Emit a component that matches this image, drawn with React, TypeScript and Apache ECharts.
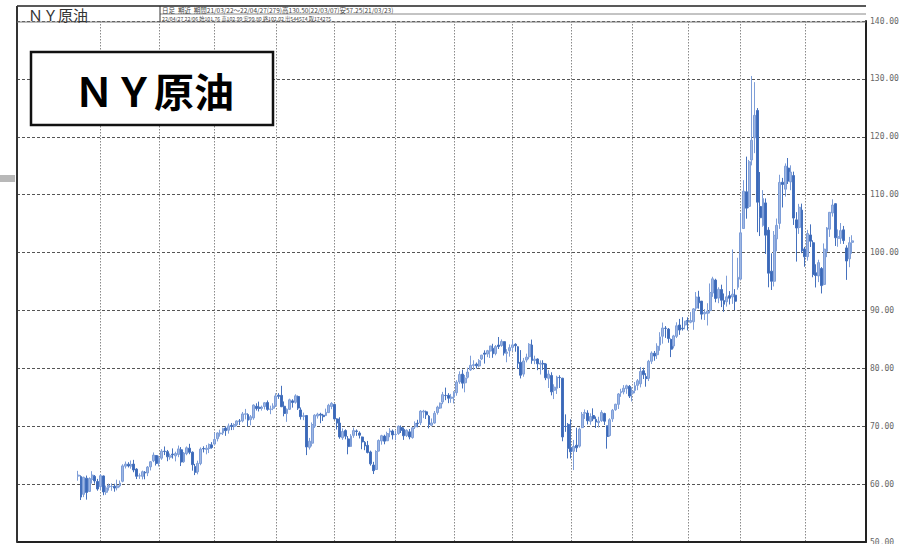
import React, { useEffect, useRef } from 'react';
import * as echarts from 'echarts';

// [day, open, high, low, close]
const m2103 = [
  [22, 61.38, 62.29, 60.59, 61.55], [23, 61.30, 61.51, 57.25, 57.76], [24, 58.23, 61.28, 57.75, 61.18],
  [25, 61.03, 61.48, 57.32, 58.56], [26, 58.73, 61.17, 58.71, 60.97], [29, 60.81, 62.23, 60.09, 61.56],
  [30, 61.35, 61.57, 60.07, 60.55], [31, 60.45, 60.90, 58.86, 59.16],
];
const m2104 = [
  [1, 59.56, 61.74, 59.00, 61.45], [5, 61.41, 61.48, 58.08, 58.65], [6, 58.59, 59.74, 58.15, 59.33],
  [7, 59.44, 60.10, 58.88, 59.77], [8, 59.59, 60.13, 58.85, 59.60], [9, 59.64, 60.06, 58.69, 59.32],
  [12, 59.38, 60.77, 58.92, 59.70], [13, 59.70, 60.62, 59.45, 60.18], [14, 60.49, 63.43, 60.31, 63.15],
  [15, 63.10, 63.90, 62.70, 63.46], [16, 63.44, 63.78, 62.87, 63.13], [19, 63.11, 64.08, 62.67, 63.38],
  [20, 63.46, 64.19, 62.05, 62.44], [21, 62.59, 62.75, 60.87, 61.35], [22, 61.41, 61.85, 60.90, 61.43],
  [23, 61.34, 62.33, 60.81, 62.14], [26, 62.05, 62.25, 60.83, 61.91], [27, 61.93, 63.12, 61.38, 62.94],
  [28, 62.99, 63.99, 62.36, 63.86], [29, 64.04, 65.47, 63.79, 65.01], [30, 64.93, 65.03, 63.21, 63.58],
];
const m2105 = [
  [3, 63.62, 64.90, 63.05, 64.49], [4, 64.48, 66.04, 64.19, 65.69], [5, 65.69, 66.50, 65.01, 65.63],
  [6, 65.61, 65.90, 63.95, 64.71], [7, 64.65, 65.29, 64.22, 64.90], [10, 65.19, 66.17, 64.41, 65.07],
  [11, 64.88, 65.60, 63.93, 65.28], [12, 65.12, 66.66, 64.65, 66.08], [13, 65.93, 66.40, 63.12, 63.82],
  [14, 63.87, 65.54, 63.67, 65.37], [17, 65.26, 66.50, 64.99, 66.27], [18, 66.21, 66.96, 65.16, 65.49],
  [19, 65.51, 65.64, 62.32, 63.36], [20, 63.01, 63.49, 61.56, 62.05], [21, 62.12, 64.05, 61.69, 63.58],
  [24, 63.55, 66.34, 63.26, 66.05], [25, 66.15, 66.53, 65.47, 66.07], [26, 65.99, 66.76, 65.14, 66.21],
  [27, 66.16, 67.01, 65.36, 66.85], [28, 66.77, 67.25, 66.12, 66.32],
];
const m2106 = [
  [1, 66.92, 68.87, 66.75, 67.72], [2, 67.85, 68.95, 67.37, 68.83], [3, 68.69, 69.40, 68.20, 68.81],
  [4, 68.82, 69.76, 68.48, 69.62], [7, 69.68, 70.00, 68.34, 69.23], [8, 69.31, 70.46, 68.72, 70.05],
  [9, 70.16, 70.56, 69.33, 69.96], [10, 69.94, 70.52, 69.34, 70.29], [11, 70.28, 71.00, 69.99, 70.91],
  [14, 70.88, 71.24, 70.19, 70.88], [15, 70.91, 72.46, 70.66, 72.12], [16, 72.06, 72.99, 71.19, 72.15],
  [17, 72.01, 72.23, 70.00, 71.04], [18, 71.13, 71.94, 70.16, 71.64], [21, 71.43, 73.78, 71.11, 73.66],
  [22, 73.44, 73.96, 72.71, 73.06], [23, 73.29, 74.25, 72.55, 73.08], [24, 73.07, 73.56, 72.70, 73.30],
  [25, 73.40, 74.16, 72.90, 74.05], [28, 74.10, 74.45, 72.67, 72.91], [29, 72.92, 73.55, 72.08, 72.98],
  [30, 73.10, 73.97, 72.77, 73.47],
];
const m2107 = [
  [1, 73.54, 75.70, 73.32, 75.23], [2, 75.35, 75.71, 74.73, 75.16], [6, 75.33, 76.98, 73.30, 73.37],
  [7, 73.45, 74.28, 71.71, 72.20], [8, 72.18, 73.07, 70.76, 72.94], [9, 72.92, 74.76, 72.80, 74.56],
  [12, 74.38, 74.66, 73.21, 74.10], [13, 74.14, 75.52, 73.90, 75.25], [14, 75.14, 75.30, 72.81, 73.13],
  [15, 72.81, 73.24, 71.15, 71.65], [16, 71.70, 72.35, 71.04, 71.81], [19, 71.85, 71.94, 65.01, 66.42],
  [20, 66.35, 67.98, 65.97, 67.42], [21, 67.07, 70.65, 66.51, 70.30], [22, 70.01, 72.07, 69.70, 71.91],
  [23, 71.76, 72.32, 71.32, 72.07], [26, 72.08, 72.32, 70.52, 71.91], [27, 71.90, 72.14, 70.91, 71.65],
  [28, 71.84, 73.04, 71.76, 72.39], [29, 72.35, 73.87, 72.28, 73.62], [30, 73.41, 74.16, 72.94, 73.95],
];
const m2108 = [
  [2, 73.77, 73.88, 71.12, 71.26], [3, 71.26, 71.37, 69.43, 70.56], [4, 70.55, 71.55, 67.84, 68.15],
  [5, 68.01, 69.63, 67.65, 69.09], [6, 69.25, 69.45, 67.74, 68.28], [9, 67.81, 68.29, 65.15, 66.48],
  [10, 66.51, 68.63, 66.41, 68.29], [11, 68.42, 69.76, 68.01, 69.25], [12, 69.19, 69.44, 68.34, 69.09],
  [13, 68.83, 69.12, 67.88, 68.44], [16, 68.14, 68.21, 66.02, 67.29], [17, 67.21, 67.44, 65.86, 66.59],
  [18, 66.70, 67.46, 65.30, 65.46], [19, 65.55, 65.78, 63.20, 63.50], [20, 63.29, 63.85, 61.74, 62.32],
  [23, 62.53, 65.85, 62.44, 65.64], [24, 65.70, 67.71, 65.62, 67.54], [25, 67.46, 68.52, 66.81, 68.36],
  [26, 68.29, 68.53, 66.88, 67.42], [27, 67.49, 69.05, 67.43, 68.74], [30, 69.02, 69.66, 68.10, 69.21],
  [31, 69.17, 69.43, 67.71, 68.50],
];
const m2109 = [
  [1, 68.55, 69.22, 67.58, 68.59], [2, 68.74, 70.14, 68.51, 69.99], [3, 69.79, 70.13, 68.83, 69.29],
  [7, 69.46, 69.80, 67.64, 68.35], [8, 68.39, 69.45, 68.15, 69.30], [9, 69.03, 69.52, 67.74, 68.14],
  [10, 68.04, 69.87, 67.85, 69.72], [13, 69.89, 70.83, 69.52, 70.45], [14, 70.53, 71.11, 69.81, 70.46],
  [15, 70.61, 72.78, 70.20, 72.61], [16, 72.45, 72.83, 71.39, 72.61], [17, 72.49, 72.70, 71.25, 71.97],
  [20, 71.75, 71.93, 69.63, 70.29], [21, 70.16, 71.34, 69.98, 70.56], [22, 70.55, 72.63, 70.43, 72.23],
  [23, 72.37, 73.54, 72.01, 73.30], [24, 73.13, 74.08, 72.98, 73.98], [27, 74.19, 75.93, 73.81, 75.45],
  [28, 75.32, 76.67, 74.50, 75.29], [29, 75.34, 75.71, 73.98, 74.83], [30, 74.82, 75.58, 74.05, 75.03],
];
const m2110 = [
  [1, 75.09, 76.06, 73.94, 75.88], [4, 75.79, 77.95, 75.27, 77.62], [5, 77.65, 79.48, 77.32, 78.93],
  [6, 79.00, 79.78, 76.52, 77.43], [7, 77.50, 78.85, 75.86, 78.30], [8, 78.46, 80.11, 78.25, 79.35],
  [11, 79.73, 82.18, 79.56, 80.52], [12, 80.49, 81.39, 79.71, 80.64], [13, 80.72, 81.00, 79.96, 80.44],
  [14, 80.41, 81.59, 80.16, 81.31], [15, 81.61, 82.33, 81.43, 82.28], [18, 82.63, 83.11, 80.82, 82.44],
  [19, 82.47, 83.19, 81.93, 83.05], [20, 82.98, 83.87, 81.79, 83.87], [21, 83.46, 84.24, 81.82, 82.50],
  [22, 82.56, 84.02, 82.25, 83.76], [25, 84.02, 85.41, 83.34, 83.76], [26, 83.94, 85.00, 83.72, 84.65],
  [27, 84.61, 84.66, 82.21, 82.66], [28, 82.60, 83.31, 81.05, 82.81], [29, 83.04, 84.14, 82.02, 83.57],
];
const m2111 = [
  [1, 83.62, 84.88, 82.96, 84.05], [2, 84.15, 84.33, 82.87, 83.91], [3, 83.73, 83.83, 79.88, 80.86],
  [4, 81.04, 83.15, 78.25, 78.81], [5, 79.00, 81.80, 78.55, 81.27], [8, 81.43, 82.53, 81.03, 81.93],
  [9, 82.00, 84.35, 81.57, 84.15], [10, 84.03, 84.97, 80.78, 81.34], [11, 81.36, 82.18, 80.71, 81.59],
  [12, 81.61, 81.71, 79.68, 80.79], [15, 80.72, 81.37, 78.93, 80.88], [16, 80.85, 81.40, 79.73, 80.76],
  [17, 80.76, 80.88, 77.96, 78.36], [18, 78.28, 79.69, 76.60, 79.01], [19, 78.77, 79.32, 75.33, 75.94],
  [22, 76.21, 77.24, 74.69, 76.75], [23, 76.55, 78.72, 75.57, 78.50], [24, 78.43, 78.80, 76.60, 78.39],
  [26, 78.30, 78.35, 67.40, 68.15], [29, 69.97, 72.05, 69.03, 69.95], [30, 70.32, 70.55, 64.43, 66.18],
];
const m2112 = [
  [1, 66.27, 71.20, 64.43, 65.57], [2, 65.67, 67.63, 62.43, 66.50], [3, 66.72, 69.74, 65.55, 66.26],
  [6, 66.56, 69.77, 66.30, 69.49], [7, 69.76, 72.46, 69.66, 72.05], [8, 72.23, 72.90, 71.26, 72.36],
  [9, 72.28, 72.76, 70.31, 70.94], [10, 70.84, 72.23, 70.26, 71.67], [13, 71.85, 73.09, 70.88, 71.29],
  [14, 71.19, 71.68, 69.70, 70.73], [15, 70.62, 71.63, 69.79, 70.87], [16, 70.96, 72.76, 70.75, 72.38],
  [17, 72.20, 72.33, 70.21, 70.86], [20, 70.07, 70.10, 66.12, 68.23], [21, 68.39, 71.37, 68.21, 71.12],
  [22, 71.27, 72.98, 70.75, 72.76], [23, 72.86, 73.89, 72.66, 73.79], [27, 73.78, 75.74, 72.98, 75.57],
  [28, 75.78, 76.46, 75.08, 75.98], [29, 75.92, 77.11, 75.51, 76.56], [30, 76.50, 77.18, 75.60, 76.99],
  [31, 76.89, 77.12, 74.87, 75.21],
];
const m2201 = [
  [3, 75.69, 76.73, 74.27, 76.08], [4, 76.18, 77.64, 75.70, 76.99], [5, 77.06, 78.15, 76.22, 77.85],
  [6, 77.33, 80.24, 76.71, 79.46], [7, 79.58, 80.11, 78.15, 78.90], [10, 78.55, 79.16, 76.83, 78.23],
  [11, 78.28, 81.46, 77.80, 81.22], [12, 81.22, 82.93, 80.76, 82.64], [13, 82.61, 83.00, 81.31, 82.12],
  [14, 82.35, 84.33, 81.62, 83.82], [18, 84.03, 86.24, 83.04, 85.43], [19, 85.55, 87.91, 84.26, 86.96],
  [20, 86.93, 87.30, 85.26, 86.90], [21, 86.78, 86.97, 84.42, 85.14], [24, 84.98, 85.16, 81.94, 83.31],
  [25, 83.86, 85.78, 83.44, 85.60], [26, 85.53, 87.95, 85.23, 87.35], [27, 87.49, 88.54, 85.79, 86.61],
  [28, 86.94, 88.84, 86.52, 86.82], [31, 87.49, 88.15, 86.73, 88.15],
];
const m2202 = [
  [1, 88.26, 88.81, 86.55, 88.20], [2, 87.96, 89.72, 87.79, 88.26], [3, 88.04, 90.42, 86.66, 90.27],
  [4, 90.41, 93.17, 89.91, 92.31], [7, 92.33, 93.39, 90.31, 91.32], [8, 91.61, 91.61, 88.43, 89.36],
  [9, 89.41, 90.24, 88.35, 89.66], [10, 89.49, 91.25, 87.40, 89.88], [11, 89.98, 94.66, 89.49, 93.10],
  [14, 93.00, 95.82, 92.35, 95.46], [15, 95.25, 95.48, 91.41, 92.07], [16, 92.13, 94.00, 91.25, 93.66],
  [17, 93.61, 94.45, 90.58, 91.76], [18, 91.71, 92.93, 89.77, 91.07], [22, 91.50, 96.00, 90.66, 92.35],
  [23, 92.55, 93.34, 91.03, 92.10], [24, 92.33, 100.54, 91.14, 92.81], [25, 92.64, 93.69, 90.06, 91.59],
  [28, 94.00, 99.10, 93.59, 95.72],
];
const m2203 = [
  [1, 95.41, 106.78, 95.25, 103.41], [2, 104.15, 112.51, 104.09, 110.60], [3, 110.50, 116.57, 105.85, 107.67],
  [4, 107.98, 116.00, 107.67, 115.68], [7, 115.99, 130.50, 115.06, 119.40], [8, 119.82, 129.44, 117.17, 123.70],
  [9, 124.55, 124.96, 103.52, 108.70], [10, 107.96, 113.91, 102.85, 106.02], [11, 104.69, 110.78, 104.46, 109.33],
  [14, 108.58, 109.35, 99.76, 103.01], [15, 103.88, 104.39, 94.00, 96.44], [16, 96.79, 99.87, 93.53, 95.04],
  [17, 95.05, 103.72, 94.14, 102.98], [18, 102.36, 105.88, 100.22, 104.70], [21, 105.04, 113.44, 104.09, 112.12],
  [22, 112.15, 112.90, 107.79, 111.76], [23, 110.95, 115.40, 109.67, 114.93], [24, 114.59, 116.33, 111.85, 112.34],
  [25, 112.20, 115.07, 110.77, 113.90], [28, 113.30, 113.98, 104.77, 105.96], [29, 105.65, 106.98, 98.44, 104.24],
  [30, 104.34, 108.41, 103.22, 107.82], [31, 107.33, 108.45, 99.90, 100.28],
];
const m2204 = [
  [1, 100.63, 100.98, 97.55, 99.27], [4, 99.29, 103.92, 98.59, 103.28], [5, 103.04, 104.87, 100.96, 101.96],
  [6, 101.70, 102.11, 95.73, 96.23], [7, 96.52, 97.97, 93.97, 96.03], [8, 95.96, 98.76, 94.89, 98.26],
  [11, 97.24, 97.49, 92.93, 94.29], [12, 94.50, 101.58, 94.35, 100.60], [13, 100.19, 104.41, 99.21, 104.25],
  [14, 104.04, 106.95, 102.70, 106.95], [18, 106.84, 109.20, 106.21, 108.21], [19, 108.44, 108.50, 101.14, 102.56],
  [20, 102.46, 104.00, 101.00, 102.75], [21, 102.46, 105.10, 101.50, 103.79], [22, 103.92, 104.60, 101.49, 102.07],
  [25, 100.80, 101.25, 95.28, 98.54], [26, 98.92, 102.70, 97.47, 101.70], [27, 101.76, 102.99, 99.80, 102.02],
];

const months = [
  { y: 2021, m: 3, rows: m2103 }, { y: 2021, m: 4, rows: m2104 }, { y: 2021, m: 5, rows: m2105 },
  { y: 2021, m: 6, rows: m2106 }, { y: 2021, m: 7, rows: m2107 }, { y: 2021, m: 8, rows: m2108 },
  { y: 2021, m: 9, rows: m2109 }, { y: 2021, m: 10, rows: m2110 }, { y: 2021, m: 11, rows: m2111 },
  { y: 2021, m: 12, rows: m2112 }, { y: 2022, m: 1, rows: m2201 }, { y: 2022, m: 2, rows: m2202 },
  { y: 2022, m: 3, rows: m2203 }, { y: 2022, m: 4, rows: m2204 },
];

const yTicks = [50, 60, 70, 80, 90, 100, 110, 120, 130, 140];
const headerLine1 = '日足  期近  期間21/03/22～22/04/27(279)高130.50(22/03/07)安57.25(21/03/23)';
const headerLine2 = '22/04/27 22/06 始101.76 高102.99 安99.80 終102.02 出544574 取174275';
const titleText = 'ＮＹ原油';

const LEAD = 22;
const TRAIL = 5;

const pad = (n: number) => (n < 10 ? '0' + n : String(n));

function buildData() {
  const cats: string[] = [];
  const ohlc: any[] = [];
  const monthStart = new Map<number, string>();
  for (let i = 0; i < LEAD; i++) { cats.push('lead' + i); ohlc.push('-'); }
  months.forEach((mo, k) => {
    mo.rows.forEach((r, j) => {
      const idx = cats.length;
      if (j === 0 && k > 0) monthStart.set(idx, mo.m === 1 ? String(mo.y) : String(mo.m));
      cats.push(`${String(mo.y).slice(2)}/${pad(mo.m)}/${pad(r[0])}`);
      ohlc.push([r[1], r[4], r[3], r[2]]);
    });
  });
  for (let i = 0; i < TRAIL; i++) { cats.push('trail' + i); ohlc.push('-'); }
  return { cats, ohlc, monthStart };
}

export default function App() {
  const ref = useRef<HTMLDivElement>(null);
  useEffect(() => {
    if (!ref.current) return;
    const chart = echarts.init(ref.current, undefined, { renderer: 'svg' });
    const { cats, ohlc, monthStart } = buildData();
    const L = 17, R = 866, TOP = 21, BOT = 542;
    chart.setOption({
      animation: false,
      backgroundColor: '#ffffff',
      grid: { left: L, right: 911 - R, top: TOP, bottom: 544 - BOT, containLabel: false, outerBoundsMode: 'none' },
      xAxis: {
        type: 'category',
        data: cats,
        boundaryGap: false,
        axisLine: { show: true, lineStyle: { color: '#222', width: 2 } },
        axisTick: { show: false },
        axisLabel: {
          interval: (i: number) => monthStart.has(i),
          formatter: (_v: string, i: number) => monthStart.get(i) ?? '',
          fontSize: 7, color: '#666', margin: 2, fontFamily: 'DejaVu Sans Mono',
        },
        splitLine: {
          show: true,
          interval: (i: number) => monthStart.has(i),
          lineStyle: { color: '#8a8a8a', type: [1.5, 1.5], width: 1 },
        },
      },
      yAxis: {
        type: 'value',
        position: 'right',
        min: 50, max: 140, interval: 10,
        axisLine: { show: true, lineStyle: { color: '#222', width: 2 } },
        axisTick: { show: false },
        axisLabel: {
          formatter: (v: number) => (yTicks.includes(v) ? v.toFixed(2) : ''),
          fontSize: 8, color: '#666', margin: 4, fontFamily: 'DejaVu Sans Mono',
          verticalAlign: 'middle', padding: [0, 0, 6, 0],
        },
        splitLine: { show: true, lineStyle: { color: '#555', type: [3, 2], width: 1 } },
      },
      series: [{
        type: 'candlestick',
        data: ohlc,
        barWidth: 2.4,
        itemStyle: {
          color: '#9fb7e3', borderColor: '#7e9ed8',
          color0: '#3b68b8', borderColor0: '#4571bd',
          borderWidth: 1,
        },
      }],
      graphic: [
        { type: 'line', z: 100, shape: { x1: L, y1: 6, x2: R, y2: 6 }, style: { stroke: '#222', lineWidth: 1.5 } },
        { type: 'line', z: 100, shape: { x1: L, y1: 6, x2: L, y2: BOT }, style: { stroke: '#333', lineWidth: 2 } },
        { type: 'line', z: 100, shape: { x1: 160, y1: 14, x2: R, y2: 14 }, style: { stroke: '#888', lineWidth: 1 } },
        { type: 'line', z: 100, shape: { x1: L, y1: 22, x2: R, y2: 22 }, style: { stroke: '#777', lineWidth: 1 } },
        { type: 'line', z: 100, shape: { x1: 160, y1: 6, x2: 160, y2: 22 }, style: { stroke: '#333', lineWidth: 1 } },
        { type: 'text', z: 100, x: 28, y: 14, style: { text: titleText, fontSize: 15, fill: '#333', fontFamily: 'Noto Sans CJK JP', verticalAlign: 'middle' } },
        { type: 'text', z: 100, x: 162, y: 10, style: { text: headerLine1, fontSize: 6.5, fill: '#444', fontFamily: 'Noto Sans CJK JP', verticalAlign: 'middle' } },
        { type: 'text', z: 100, x: 162, y: 18, style: { text: headerLine2, fontSize: 5.2, fill: '#444', fontFamily: 'Noto Sans CJK JP', verticalAlign: 'middle' } },
        { type: 'rect', z: 100, shape: { x: 31, y: 52, width: 242, height: 73 }, style: { fill: '#fff', stroke: '#111', lineWidth: 2.5 } },
        { type: 'text', z: 101, x: 154, y: 90, style: { text: titleText, fontSize: 40, fontWeight: 'bold', fill: '#000', fontFamily: 'Noto Sans CJK JP', align: 'center', verticalAlign: 'middle' } },
        { type: 'rect', z: 100, shape: { x: 0, y: 175, width: 15, height: 7 }, style: { fill: '#b8b8b8' } },
      ],
    });
    return () => chart.dispose();
  }, []);
  return <div ref={ref} style={{ position: 'fixed', left: 0, top: 0, width: 911, height: 544, background: '#fff' }} />;
}
